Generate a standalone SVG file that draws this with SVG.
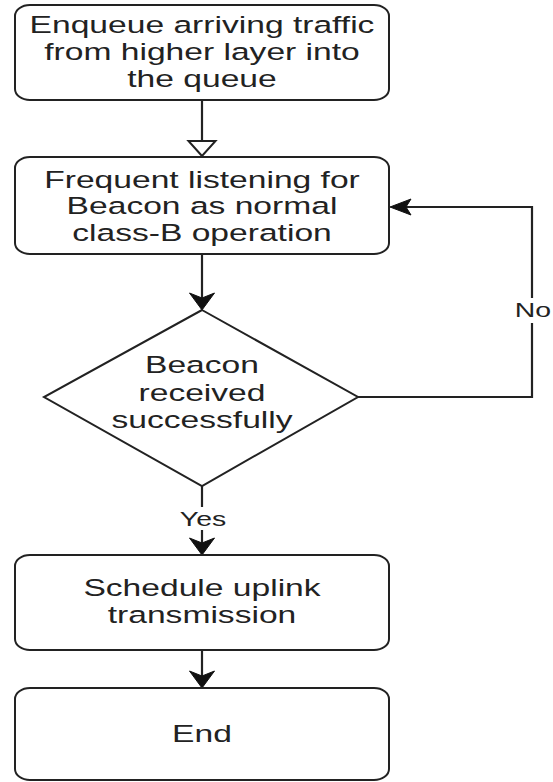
<svg xmlns="http://www.w3.org/2000/svg" width="553" height="782" viewBox="0 0 553 782">
<style>
.box{fill:#ffffff;stroke:#222222;stroke-width:2}
.ln{fill:none;stroke:#222222;stroke-width:2.2}
.head{fill:#111111;stroke:#111111;stroke-width:1}
.open{fill:#ffffff;stroke:#222222;stroke-width:2}
.t{font-family:"Liberation Sans",Arial,Helvetica,sans-serif;font-size:23.5px;fill:#222222;text-anchor:middle}
.lbl{font-family:"Liberation Sans",Arial,Helvetica,sans-serif;font-size:20px;fill:#222222;text-anchor:middle}
</style>
<rect width="553" height="782" fill="#ffffff"/>
<g id="connectors">
  <line class="ln" x1="202" y1="100" x2="202" y2="141"/>
  <path class="open" d="M202,156 L188.5,141 L215.5,141 Z"/>
  <line class="ln" x1="202" y1="254" x2="202" y2="300"/>
  <path class="head" d="M202,310 L189.5,293 L202,298 L214.5,293 Z"/>
  <polyline class="ln" points="358,397 532,397 532,207 400,207"/>
  <path class="head" d="M390,207 L411,199 L406,207 L411,215 Z"/>
  <rect x="512" y="298" width="41" height="25" fill="#ffffff"/>
  <g transform="translate(533,0) scale(1.42,1)"><text class="lbl" x="0" y="317">No</text></g>
  <line class="ln" x1="202" y1="486" x2="202" y2="545"/>
  <rect x="175" y="507" width="54" height="23" fill="#ffffff"/>
  <g transform="translate(203,0) scale(1.42,1)"><text class="lbl" x="0" y="526">Yes</text></g>
  <path class="head" d="M202,555 L189.5,538 L202,543 L214.5,538 Z"/>
  <line class="ln" x1="202" y1="650" x2="202" y2="678"/>
  <path class="head" d="M202,688 L189.5,671 L202,676 L214.5,671 Z"/>
</g>
<g id="n1">
  <rect class="box" x="15" y="5" width="374" height="95" rx="15" ry="11"/>
  <g transform="translate(202,0) scale(1.43,1)">
    <text class="t" x="0" y="33.5">Enqueue arriving traffic</text>
    <text class="t" x="0" y="60.5">from higher layer into</text>
    <text class="t" x="0" y="87.5">the queue</text>
  </g>
</g>
<g id="n2">
  <rect class="box" x="15" y="157" width="374" height="97" rx="15" ry="11"/>
  <g transform="translate(202,0) scale(1.43,1)">
    <text class="t" x="0" y="188">Frequent listening for</text>
    <text class="t" x="0" y="214.5">Beacon as normal</text>
    <text class="t" x="0" y="241">class-B operation</text>
  </g>
</g>
<g id="n3">
  <path class="box" d="M202,310 L358,397 L202,486 L44,397 Z"/>
  <g transform="translate(202,0) scale(1.43,1)">
    <text class="t" x="0" y="373">Beacon</text>
    <text class="t" x="0" y="401">received</text>
    <text class="t" x="0" y="428.5">successfully</text>
  </g>
</g>
<g id="n4">
  <rect class="box" x="15" y="555" width="374" height="95" rx="15" ry="11"/>
  <g transform="translate(202,0) scale(1.43,1)">
    <text class="t" x="0" y="596">Schedule uplink</text>
    <text class="t" x="0" y="623.5">transmission</text>
  </g>
</g>
<g id="n5">
  <rect class="box" x="15" y="688" width="374" height="92" rx="15" ry="11"/>
  <g transform="translate(202,0) scale(1.43,1)">
    <text class="t" x="0" y="742">End</text>
  </g>
</g>
</svg>
